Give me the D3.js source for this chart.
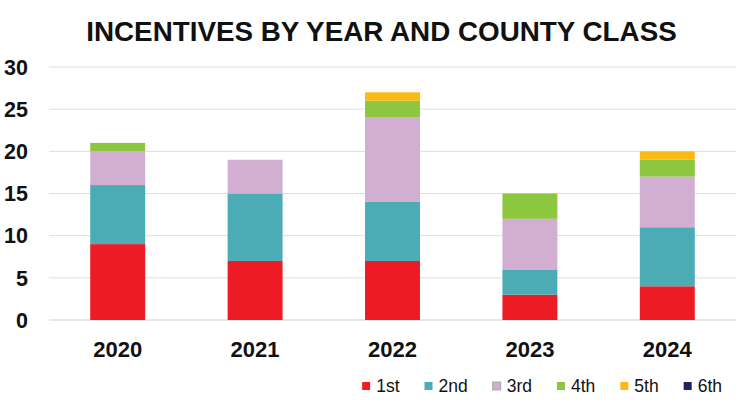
<!DOCTYPE html>
<html>
<head>
<meta charset="utf-8">
<script src="https://cdn.jsdelivr.net/npm/d3@7"></script>
<style>
  body { margin: 0; background: #fff; }
  text { font-family: "Liberation Sans", Arial, sans-serif; }
</style>
</head>
<body>
<div id="chart"></div>
<script>
// データ
const years = ["2020", "2021", "2022", "2023", "2024"];
const classes = ["1st", "2nd", "3rd", "4th", "5th", "6th"];
const first  = [9, 7, 7, 3, 4];
const second = [7, 8, 7, 3, 7];
const third  = [4, 4, 10, 6, 6];
const fourth = [1, 0, 2, 3, 2];
const fifth  = [0, 0, 1, 0, 1];
const sixth  = [0, 0, 0, 0, 0];
const yTicks = [0, 5, 10, 15, 20, 25, 30];
const colors = ["#ED1C24", "#4CACB5", "#D3AED3", "#8DC63F", "#FDB913", "#1F2556"];

const width = 744, height = 404;
const margin = {top: 67, right: 8, bottom: 84, left: 49};

const rows = years.map((y, i) => ({
    year: y,
    "1st": first[i], "2nd": second[i], "3rd": third[i],
    "4th": fourth[i], "5th": fifth[i], "6th": sixth[i]
}));

const svg = d3.select("#chart").append("svg")
    .attr("width", width)
    .attr("height", height);

// タイトル
svg.append("text")
    .attr("x", 381.5)
    .attr("y", 41)
    .attr("text-anchor", "middle")
    .style("font-size", "27.8px")
    .style("font-weight", "bold")
    .style("fill", "#111")
    .text("INCENTIVES BY YEAR AND COUNTY CLASS");

const x = d3.scaleBand()
    .domain(years)
    .range([margin.left, width - margin.right])
    .paddingInner(0.6)
    .paddingOuter(0.3);

const y = d3.scaleLinear()
    .domain([0, 30])
    .range([height - margin.bottom, margin.top]);

// グリッド線
svg.append("g")
    .selectAll("line")
    .data(yTicks)
    .enter()
    .append("line")
    .attr("x1", margin.left)
    .attr("x2", width - margin.right)
    .attr("y1", d => y(d))
    .attr("y2", d => y(d))
    .style("stroke", d => d === 0 ? "#cfcfcf" : "#dedede")
    .style("stroke-width", 1);

// Y軸ラベル
svg.append("g")
    .selectAll("text")
    .data(yTicks)
    .enter()
    .append("text")
    .attr("x", 28)
    .attr("y", d => y(d))
    .attr("dy", "0.36em")
    .attr("text-anchor", "end")
    .style("font-size", "21.5px")
    .style("font-weight", "bold")
    .style("fill", "#111")
    .text(d => d);

// 積み上げ棒
const stack = d3.stack().keys(classes)(rows);

svg.append("g")
    .selectAll("g")
    .data(stack)
    .enter()
    .append("g")
    .style("fill", (d, i) => colors[i])
    .selectAll("rect")
    .data(d => d.filter(p => p[1] > p[0]))
    .enter()
    .append("rect")
    .attr("x", d => x(d.data.year))
    .attr("width", x.bandwidth())
    .attr("y", d => y(d[1]))
    .attr("height", d => y(d[0]) - y(d[1]));

// X軸ラベル
svg.append("g")
    .selectAll("text")
    .data(years)
    .enter()
    .append("text")
    .attr("x", d => x(d) + x.bandwidth() / 2)
    .attr("y", 357)
    .attr("text-anchor", "middle")
    .style("font-size", "22px")
    .style("font-weight", "bold")
    .style("fill", "#111")
    .text(d => d);

// 凡例
const legend = svg.append("g");
const items = legend.selectAll("g")
    .data(classes)
    .enter()
    .append("g");

items.append("rect")
    .attr("width", 8)
    .attr("height", 8)
    .attr("y", 382)
    .style("fill", (d, i) => colors[i])
    .style("stroke", (d, i) => i === 2 ? "#999" : "none")
    .style("stroke-width", 0.8);

items.append("text")
    .attr("x", 14)
    .attr("y", 392)
    .style("font-size", "17.5px")
    .style("fill", "#111")
    .text(d => d);

// 凡例の位置を文字幅から計算
const gap = 25;
const widths = [];
items.select("text").each(function() { widths.push(this.getComputedTextLength()); });
let total = widths.reduce((a, w) => a + 14 + w, 0) + gap * (classes.length - 1);
let pos = 722 - total;
items.attr("transform", (d, i) => {
    const t = `translate(${pos},0)`;
    pos += 14 + widths[i] + gap;
    return t;
});
</script>
</body>
</html>
